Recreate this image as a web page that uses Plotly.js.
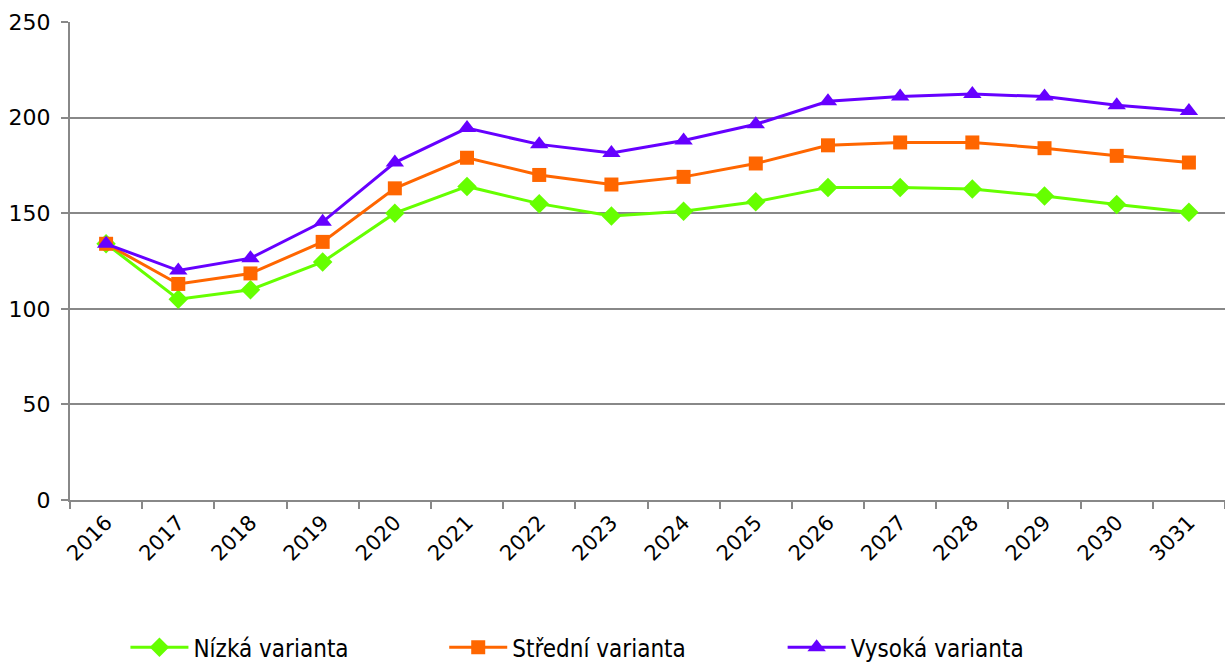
<!DOCTYPE html>
<html>
<head>
<meta charset="utf-8">
<script src="https://cdn.plot.ly/plotly-3.0.1.min.js"></script>
<style>html,body{margin:0;padding:0;background:#fff;}#chart{width:1225px;height:666px;}</style>
</head>
<body>
<div id="chart"></div>
<script>
const years = ["2016","2017","2018","2019","2020","2021","2022","2023","2024","2025","2026","2027","2028","2029","2030","3031"];
const nizka = [134, 105, 110, 124.5, 150, 164, 155, 148.5, 151, 156, 163.5, 163.5, 162.7, 159, 154.5, 150.5];
const stredni = [134, 113, 118.5, 135, 163, 179, 170, 165, 169, 176, 185.5, 187, 187, 184, 180, 176.5];
const vysoka = [134, 120, 126.5, 145.5, 176.5, 194.5, 186, 181.5, 188, 196.5, 208.5, 211, 212.3, 211, 206.5, 203.5];
const names = ["Nízká varianta", "Střední varianta", "Vysoká varianta"];

const traces = [
  {x: years, y: nizka, name: names[0], type: 'scatter', mode: 'lines+markers', legend: 'legend',
   line: {color: '#66FF00', width: 3}, marker: {symbol: 'diamond', size: 15, color: '#66FF00'}},
  {x: years, y: stredni, name: names[1], type: 'scatter', mode: 'lines+markers', legend: 'legend2',
   line: {color: '#FF6600', width: 3}, marker: {symbol: 'square', size: 14, color: '#FF6600'}},
  {x: years, y: vysoka, name: names[2], type: 'scatter', mode: 'lines+markers', legend: 'legend3',
   line: {color: '#6600FF', width: 3}, marker: {symbol: 'triangle-up', size: 16, color: '#6600FF'}}
];

const legFont = {family: 'DejaVu Sans Condensed, DejaVu Sans, sans-serif', size: 24, color: '#000'};
function leg(x) {
  return {orientation: 'h', x: x, xanchor: 'left', y: -0.262, yanchor: 'top',
          font: legFont, itemwidth: 58, bgcolor: 'rgba(0,0,0,0)'};
}

const layout = {
  width: 1225, height: 666,
  margin: {l: 70, r: 0, t: 22, b: 166, autoexpand: false},
  paper_bgcolor: '#fff', plot_bgcolor: '#fff',
  font: {family: 'DejaVu Sans, Verdana, sans-serif', size: 22, color: '#000'},
  showlegend: true,
  xaxis: {
    type: 'category', range: [-0.5, 15.5], tickson: 'boundaries', automargin: false,
    ticks: 'outside', ticklen: 7, tickcolor: '#888', tickwidth: 2,
    showline: true, linecolor: '#888', linewidth: 2,
    showgrid: false, tickangle: -45, zeroline: false,
    tickfont: {size: 21}
  },
  yaxis: {
    range: [0, 250], dtick: 50, tick0: 0, automargin: false,
    ticks: 'outside', ticklen: 7, tickcolor: '#888', tickwidth: 2,
    showline: true, linecolor: '#888', linewidth: 2,
    showgrid: true, gridcolor: '#888', gridwidth: 2, zeroline: false,
    tickfont: {size: 22}, ticklabelstandoff: 6
  },
  legend: leg(0.048),
  legend2: leg(0.324),
  legend3: leg(0.617)
};

Plotly.newPlot('chart', traces, layout, {displayModeBar: false, staticPlot: true});
</script>
</body>
</html>
